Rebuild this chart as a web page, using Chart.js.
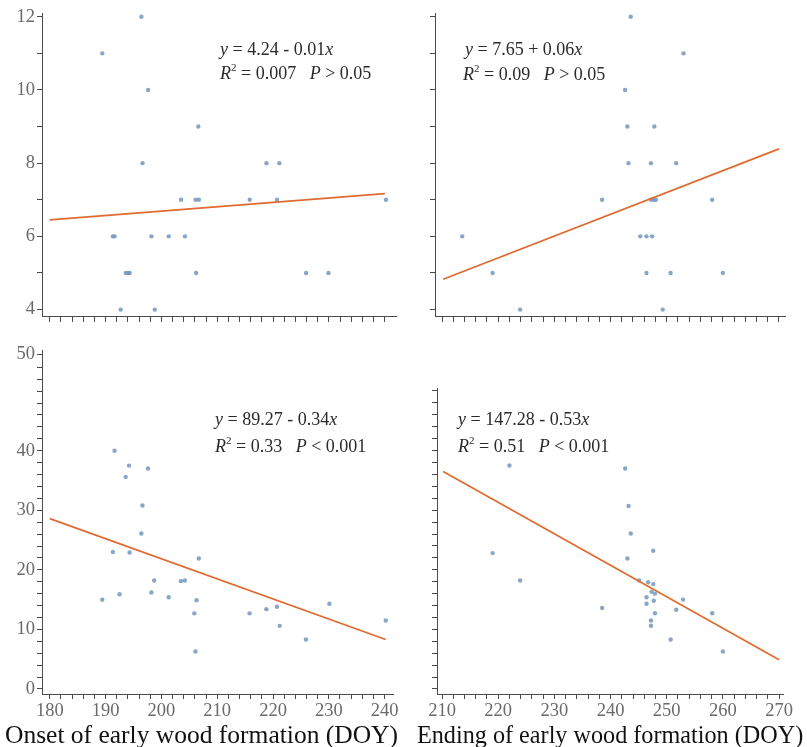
<!DOCTYPE html>
<html>
<head>
<meta charset="utf-8">
<script src="https://cdn.jsdelivr.net/npm/chart.js@4.4.1/dist/chart.umd.min.js"></script>
<style>
html,body{margin:0;padding:0;background:#fff;}
#wrap{position:relative;width:807px;height:747px;overflow:hidden;background:#fff;}
.pc{position:absolute;}
.eq{position:absolute;font-family:'Liberation Serif','Times New Roman',serif;font-size:18px;color:#2a2a2a;white-space:nowrap;line-height:1;}
.eq i{font-style:italic;}
.eq sup{font-size:11px;line-height:0;position:relative;top:-1px;}
.ttl{position:absolute;font-family:'Liberation Serif','Times New Roman',serif;color:#111;white-space:nowrap;line-height:1;}
</style>
</head>
<body>
<div id="wrap">
  <div class="pc" style="left:0;top:0;width:400px;height:330px"><canvas id="cTL"></canvas></div>
  <div class="pc" style="left:400px;top:0;width:407px;height:330px"><canvas id="cTR"></canvas></div>
  <div class="pc" style="left:0;top:330px;width:400px;height:417px"><canvas id="cBL"></canvas></div>
  <div class="pc" style="left:400px;top:330px;width:407px;height:417px"><canvas id="cBR"></canvas></div>

  <div class="eq" style="left:220px;top:40px"><i>y</i> = 4.24 - 0.01<i>x</i></div>
  <div class="eq" style="left:220px;top:64px"><i>R</i><sup>2</sup> = 0.007&nbsp;&nbsp;&nbsp;<i>P</i> &gt; 0.05</div>
  <div class="eq" style="left:465px;top:40px"><i>y</i> = 7.65 + 0.06<i>x</i></div>
  <div class="eq" style="left:463px;top:65px"><i>R</i><sup>2</sup> = 0.09&nbsp;&nbsp;&nbsp;<i>P</i> &gt; 0.05</div>
  <div class="eq" style="left:215px;top:410px"><i>y</i> = 89.27 - 0.34<i>x</i></div>
  <div class="eq" style="left:215px;top:437px"><i>R</i><sup>2</sup> = 0.33&nbsp;&nbsp;&nbsp;<i>P</i> &lt; 0.001</div>
  <div class="eq" style="left:458px;top:410px"><i>y</i> = 147.28 - 0.53<i>x</i></div>
  <div class="eq" style="left:458px;top:437px"><i>R</i><sup>2</sup> = 0.51&nbsp;&nbsp;&nbsp;<i>P</i> &lt; 0.001</div>

  <div class="ttl" style="left:5px;top:722px;font-size:25.5px">Onset of early wood formation (DOY)</div>
  <div class="ttl" style="left:417px;top:723px;font-size:24.2px">Ending of early wood formation (DOY)</div>
</div>

<script>
// ---------- DATA ----------
// Top-left: onset (DOY) vs. y (count)
const tlX = [189.4,196.4,197.6,206.6,196.6,218.8,221.1,203.5,206.1,206.7,215.8,220.7,240.2,191.3,191.6,198.2,201.3,204.2,193.6,194.0,194.3,206.2,225.9,229.9,192.7,198.8];
const tlY = [11,12,10,9,8,8,8,7,7,7,7,7,7,6,6,6,6,6,5,5,5,5,5,5,4,4];
const tlFitX = [180,240];
const tlFitY = [6.45,7.17];

// Top-right: ending (DOY) vs. y (count)
const trX = [213.6,219.0,223.9,238.5,242.6,243.6,243.0,243.2,247.8,247.2,251.7,253.0,247.2,247.7,248.1,258.1,245.3,246.4,247.4,246.4,250.7,260.0,249.3];
const trY = [6,5,4,7,10,12,9,8,9,8,8,11,7,7,7,7,6,6,6,5,5,5,4];
const trFitX = [210.2,270];
const trFitY = [4.83,8.39];

// Bottom-left: onset (DOY) vs. y
const blX = [191.6,194.2,193.6,197.6,196.6,196.4,191.3,194.3,189.4,192.5,198.2,198.7,201.3,203.5,204.2,206.7,206.3,205.9,206.1,215.8,218.8,220.7,221.2,225.9,230.1,240.2];
const blY = [40.0,37.5,35.6,37.0,30.8,26.1,23.0,22.9,15.0,15.9,16.2,18.2,15.4,18.1,18.2,21.9,14.9,12.7,6.3,12.7,13.4,13.8,10.6,8.3,14.3,11.5];
const blFitX = [180,240.2];
const blFitY = [28.6,8.3];

// Bottom-right: ending (DOY) vs. y
const brX = [222.0,242.6,243.2,243.6,247.6,243.0,219.0,223.9,238.5,245.1,246.7,247.6,247.3,247.9,246.4,246.4,247.7,252.9,251.7,247.9,247.2,247.2,258.1,250.7,260.0];
const brY = [37.5,37.0,30.7,26.1,23.2,21.9,22.8,18.2,13.6,18.2,17.9,17.6,16.3,16.0,15.4,14.3,14.8,15.0,13.3,12.7,11.5,10.6,12.7,8.3,6.3];
const brFitX = [210.2,270];
const brFitY = [36.5,4.9];

// Tick labels
const xLabelsOnset = [180,190,200,210,220,230,240];
const xLabelsEnding = [210,220,230,240,250,260,270];
const yLabelsTop = [4,6,8,10,12];
const yTickValuesBL = [0,10,20,30,40,56.2];
const yTickLabelsBL = ['0','10','20','30','40','50'];

// ---------- HELPERS ----------
function range(a,b,s){const r=[];for(let v=a;v<=b+1e-9;v+=s)r.push(Math.round(v*100)/100);return r;}
function pairs(xs,ys){return xs.map((x,i)=>({x:x,y:ys[i]}));}

const tickFont = {family:"'Liberation Serif','Times New Roman',serif", size:18.5};
const TICK_COL = '#6a6a6a';
const AXIS_COL = '#4a4a4a';

function panel(id,o){
  new Chart(document.getElementById(id),{
    type:'scatter',
    data:{datasets:[
      {type:'line',data:pairs(o.fitX,o.fitY),borderColor:'#e06a30',borderWidth:1.7,pointRadius:0,fill:false,tension:0,order:0},
      {data:pairs(o.xs,o.ys),backgroundColor:'rgba(115,150,190,0.85)',pointRadius:2.2,borderWidth:0,order:1}
    ]},
    options:{
      responsive:true,maintainAspectRatio:false,animation:false,
      layout:{padding:{top:o.padT,right:o.padR,left:0,bottom:0}},
      plugins:{legend:{display:false},tooltip:{enabled:false}},
      scales:{
        x:{type:'linear',min:o.xMin,max:o.xMax,
          afterBuildTicks:s=>{s.ticks=o.xTicks.map(v=>({value:v}));},
          afterFit:s=>{s.height=o.xH;},
          grid:{drawOnChartArea:false,drawTicks:true,tickLength:5,tickColor:AXIS_COL},
          border:{display:true,color:AXIS_COL,width:1},
          ticks:{autoSkip:false,maxRotation:0,minRotation:0,padding:1,color:TICK_COL,font:tickFont,
            callback:(v)=>o.xLab(v)}
        },
        y:{type:'linear',min:o.yMin,max:o.yMax,
          afterBuildTicks:s=>{s.ticks=o.yTicks.map(v=>({value:v}));},
          afterFit:s=>{s.width=o.yW;},
          grid:{drawOnChartArea:false,drawTicks:true,tickLength:5,tickColor:AXIS_COL},
          border:{display:true,color:AXIS_COL,width:1},
          ticks:{autoSkip:false,padding:2,color:TICK_COL,font:tickFont,
            callback:(v)=>o.yLab(v)}
        }
      }
    }
  });
}

const near=(arr,v)=>arr.some(a=>Math.abs(a-v)<1e-6);

panel('cTL',{xs:tlX,ys:tlY,fitX:tlFitX,fitY:tlFitY,
  xMin:178.6,xMax:242,yMin:3.8,yMax:12.1,padT:11,padR:4,xH:11,yW:42,
  xTicks:range(180,240,2),yTicks:range(4,12,1),
  xLab:v=>'',yLab:v=>near(yLabelsTop,v)?String(v):''});

panel('cTR',{xs:trX,ys:trY,fitX:trFitX,fitY:trFitY,
  xMin:208.75,xMax:271.07,yMin:3.8,yMax:12.1,padT:11,padR:22,xH:11,yW:35,
  xTicks:range(210,270,2),yTicks:range(4,12,1),
  xLab:v=>'',yLab:v=>''});

panel('cBL',{xs:blX,ys:blY,fitX:blFitX,fitY:blFitY,
  xMin:178.6,xMax:241.5,yMin:-0.84,yMax:56.9,padT:20,padR:7,xH:53,yW:42,
  xTicks:range(180,240,2),yTicks:range(0,54,2).concat([56.2]),
  xLab:v=>near(xLabelsOnset,v)?String(v):'',
  yLab:v=>{const i=yTickValuesBL.findIndex(a=>Math.abs(a-v)<1e-6);return i>=0?yTickLabelsBL[i]:'';}});

panel('cBR',{xs:brX,ys:brY,fitX:brFitX,fitY:brFitY,
  xMin:209.1,xMax:270.7,yMin:-0.84,yMax:50.5,padT:58,padR:24,xH:53,yW:37,
  xTicks:range(210,270,2),yTicks:range(0,50,2),
  xLab:v=>near(xLabelsEnding,v)?String(v):'',yLab:v=>''});
</script>
</body>
</html>
